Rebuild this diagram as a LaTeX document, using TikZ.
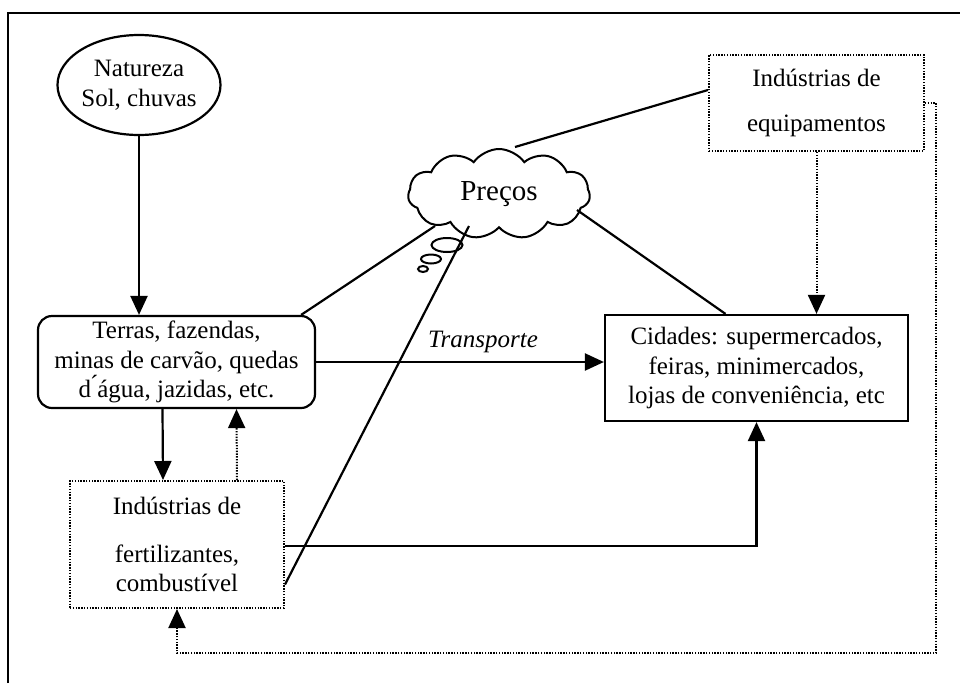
\documentclass[tikz,border=0pt]{standalone}
\usepackage{fontspec}
\setmainfont{Liberation Serif}
\usetikzlibrary{arrows.meta,shapes.geometric,shapes.symbols}
\begin{document}
\begin{tikzpicture}[x=1pt,y=-1pt,
  txt/.style={font=\fontsize{25}{29.5}\selectfont, align=center, inner sep=0pt},
  solidbox/.style={txt, draw, line width=2.2pt},
  dotbox/.style={txt, draw, line width=2pt, dash pattern=on 1.4pt off 1.4pt},
  ln/.style={line width=2.2pt},
  dln/.style={line width=2pt, dash pattern=on 1.4pt off 1.4pt},
  tip/.style={-{Triangle[length=19pt,width=17pt]}}
]
\useasboundingbox (0,0) rectangle (960,683);
\draw[line width=2pt] (8,683) -- (8,13) -- (960,13);

\node[solidbox, shape=ellipse, minimum width=139pt, minimum height=100pt] (nat) at (139,85) {Natureza\\Sol, chuvas};
\node[solidbox, rounded corners=14pt, minimum width=277pt, minimum height=92pt] (terras) at (176.5,362) {Terras, fazendas,\\minas de carvão, quedas\\d\'{}água, jazidas, etc.};
\node[dotbox, minimum width=214pt, minimum height=127pt] (fert) at (177,544.5) {Indústrias de\\[18pt]fertilizantes,\\combustível};
\node[dotbox, minimum width=215pt, minimum height=96pt] (equip) at (816.5,103) {Indústrias de\\[16pt]equipamentos};
\node[solidbox, minimum width=303pt, minimum height=106pt] (cid) at (756.5,368) {Cidades: supermercados,\\feiras, minimercados,\\lojas de conveniência, etc};
\node[txt, draw, line width=2pt, shape=cloud, cloud puffs=11, cloud puff arc=110, aspect=2, minimum width=182pt, minimum height=90pt, font=\fontsize{29}{34}\selectfont] (cloud) at (499,194) {Preços};
\node[draw, line width=2pt, ellipse, minimum width=31pt, minimum height=14pt, inner sep=0pt] (b1) at (447,245) {};
\node[draw, line width=2pt, ellipse, minimum width=20pt, minimum height=9pt, inner sep=0pt] (b2) at (431,259) {};
\node[draw, line width=2pt, ellipse, minimum width=10pt, minimum height=6pt, inner sep=0pt] (b3) at (423,269) {};

% connectors
\draw[ln, tip] (nat.south) -- (nat.south |- terras.north);
\draw[ln, tip] (terras.east) -- (terras.east -| cid.west) node[pos=0.58, above=5pt, font=\itshape\fontsize{25}{29.5}\selectfont] {Transporte};
\draw[ln, tip] ([xshift=-14pt]terras.south) -- ([xshift=-14pt]fert.north);
\draw[dln, tip] ([xshift=60pt]fert.north) -- ([xshift=60pt]terras.south);
\draw[ln, tip] ([shift={(0,1.5)}]fert.east) -| (cid.south);
\draw[dln, tip] (equip.south) -- (equip.south |- cid.north);
\draw[dln, tip] (equip.east) -- ++(11,0) |- (177,653) -- (fert.south);

% price links
\draw[ln] ([xshift=-15pt]terras.north east) -- ([shift={(-64,32)}]cloud.center);
\draw[ln] ([shift={(0,40)}]fert.east) -- ([shift={(-30,32)}]cloud.center);
\draw[ln] ([shift={(16,-47)}]cloud.center) -- ([shift={(0,-13)}]equip.west);
\draw[ln] ([shift={(78,16)}]cloud.center) -- ([shift={(-31,0)}]cid.north);
\end{tikzpicture}
\end{document}
